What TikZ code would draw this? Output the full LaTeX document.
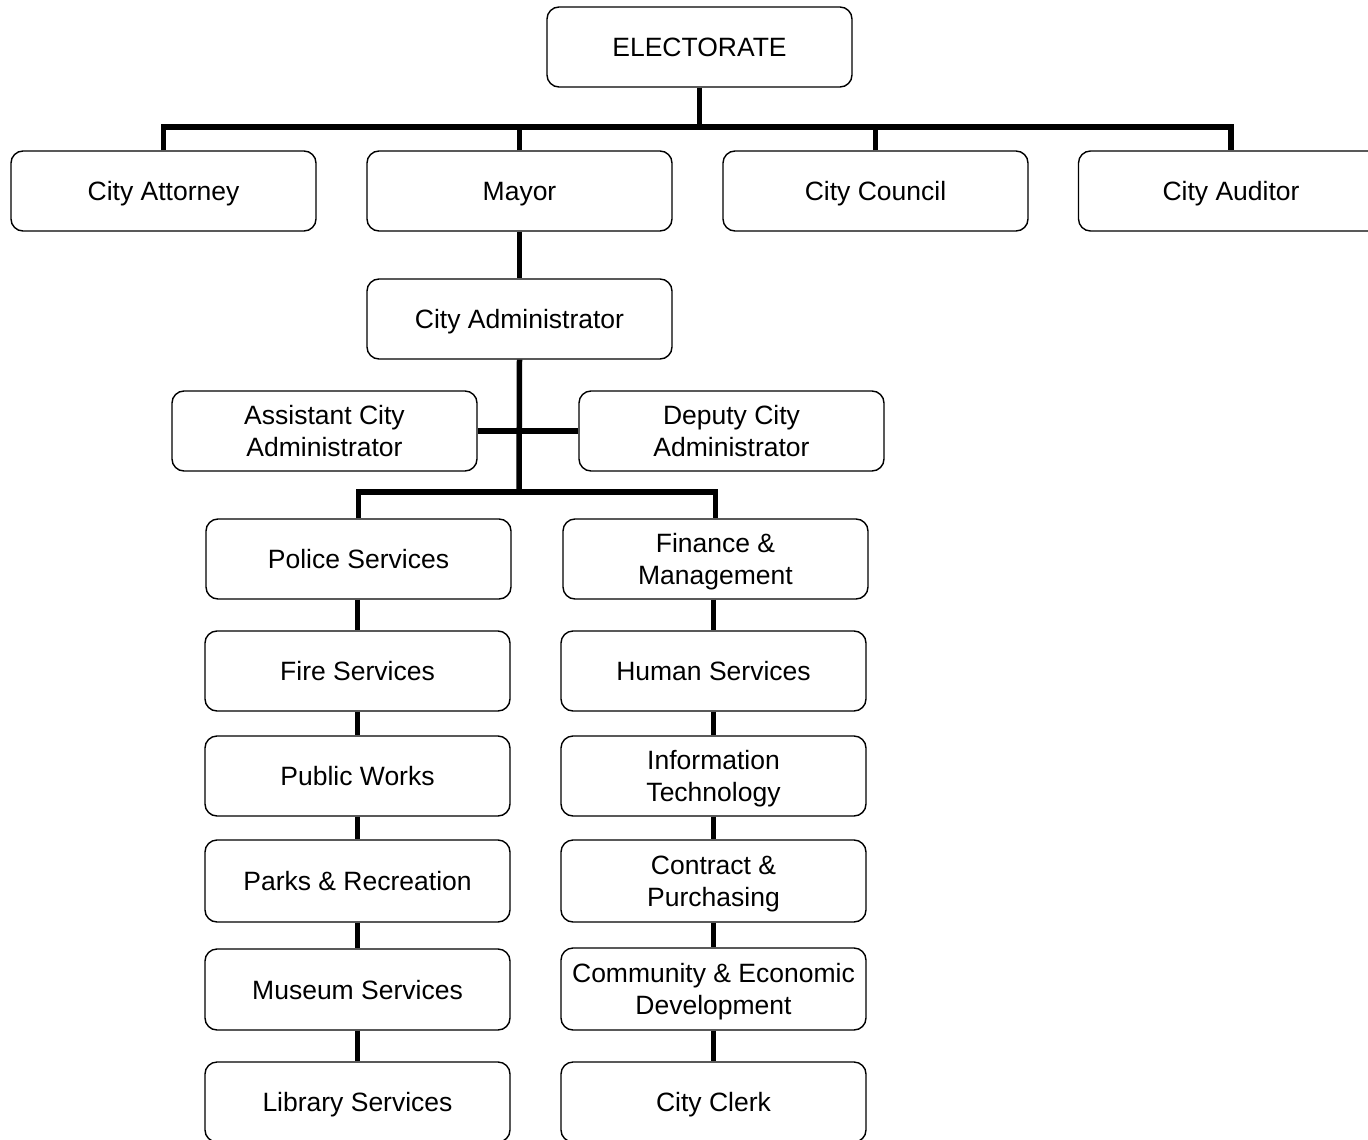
\documentclass[tikz,border=0pt]{standalone}
\usepackage{fontspec}
\setmainfont{Liberation Sans}
\begin{document}
\begin{tikzpicture}[x=1pt,y=-1pt,
  box/.style={draw=black, line width=1.4pt, rounded corners=12pt, fill=white,
    minimum width=305pt, minimum height=80pt, inner sep=0pt, align=center,
    text depth=0pt, font=\fontsize{26.5}{32}\selectfont},
  conn/.style={line width=5.5pt, line join=miter}]
\clip (0,0) rectangle (1368,1140);
\useasboundingbox (0,0) rectangle (1368,1140);
\fill[white] (0,0) rectangle (1368,1140);
% nodes
\node[box] (elect) at (699.5,47) {ELECTORATE};
\node[box] (att) at (163.5,191) {City Attorney};
\node[box] (mayor) at (519.5,191) {Mayor};
\node[box] (council) at (875.5,191) {City Council};
\node[box] (aud) at (1231,191) {City Auditor};
\node[box] (admin) at (519.5,319) {City Administrator};
\node[box] (asst) at (324.5,431) {Assistant City\\Administrator};
\node[box] (dep) at (731.5,431) {Deputy City\\Administrator};
\node[box] (police) at (358.5,559) {Police Services};
\node[box] (fire) at (357.5,671) {Fire Services};
\node[box] (pw) at (357.5,776) {Public Works};
\node[box, minimum height=82pt] (parks) at (357.5,881) {Parks \& Recreation};
\node[box, minimum height=81pt] (museum) at (357.5,989.5) {Museum Services};
\node[box] (library) at (357.5,1102) {Library Services};
\node[box] (fin) at (715.5,559) {Finance \&\\Management};
\node[box] (hum) at (713.5,671) {Human Services};
\node[box] (it) at (713.5,776) {Information\\Technology};
\node[box, minimum height=82pt] (contract) at (713.5,881) {Contract \&\\Purchasing};
\node[box, minimum height=82pt] (ced) at (713.5,989) {Community \& Economic\\Development};
\node[box] (clerk) at (713.5,1102) {City Clerk};
% connectors
\coordinate (bus) at (699.5,127);
\coordinate (split) at (519,492);
\draw[conn] (elect.south) -- (bus);
\draw[conn] (att.north) -- (att.north |- bus) -- (aud.north |- bus) -- (aud.north);
\draw[conn] (mayor.north) -- (mayor.north |- bus);
\draw[conn] (council.north) -- (council.north |- bus);
\draw[conn] (mayor.south) -- (admin.north);
\draw[conn] (admin.south) -- (split);
\draw[conn] (asst.east) -- (dep.west);
\draw[conn] (police.north) -- (police.north |- split) -- (fin.north |- split) -- (fin.north);
\draw[conn] (fire.north |- police.south) -- (fire.north);
\draw[conn] (fire.south) -- (pw.north);
\draw[conn] (pw.south) -- (parks.north);
\draw[conn] (parks.south) -- (museum.north);
\draw[conn] (museum.south) -- (library.north);
\draw[conn] (hum.north |- fin.south) -- (hum.north);
\draw[conn] (hum.south) -- (it.north);
\draw[conn] (it.south) -- (contract.north);
\draw[conn] (contract.south) -- (ced.north);
\draw[conn] (ced.south) -- (clerk.north);
\end{tikzpicture}
\end{document}
